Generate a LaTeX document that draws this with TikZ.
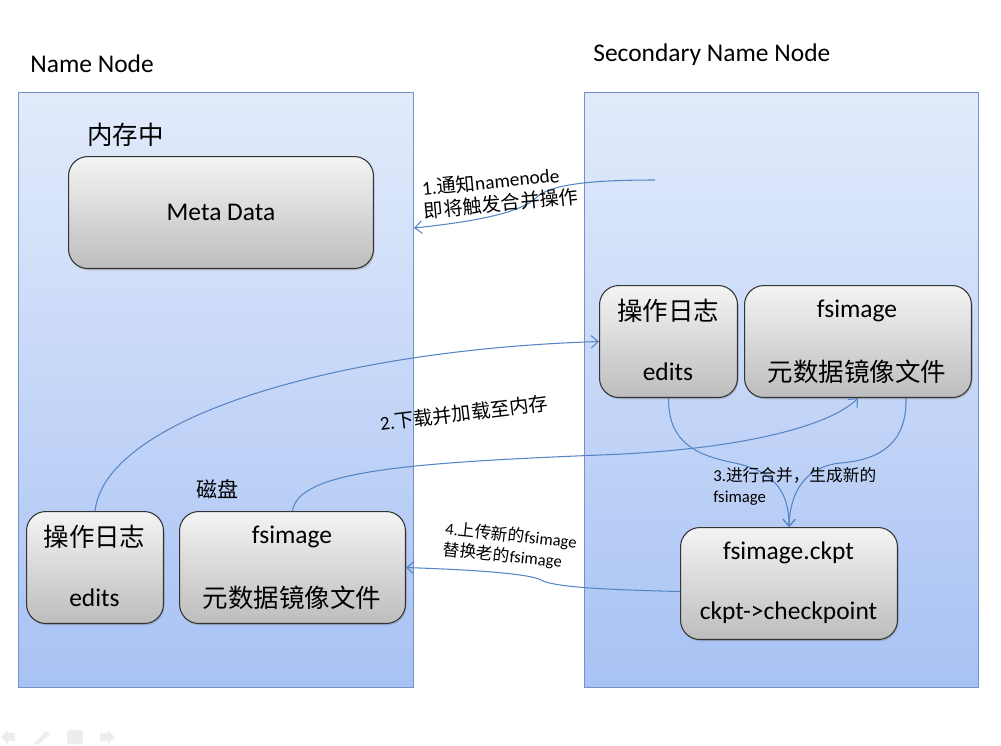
\documentclass[tikz,border=0pt]{standalone}
\usepackage{fontspec}
\setmainfont{Carlito}
\newfontfamily\cjk{Noto Sans CJK SC}
\usepackage{xcolor}
\usetikzlibrary{arrows.meta, calc, shadows}
\definecolor{paneltop}{HTML}{E2EBFB}
\definecolor{panelbot}{HTML}{A8C2F4}
\definecolor{panelline}{HTML}{6F93CC}
\definecolor{boxtop}{HTML}{F4F4F4}
\definecolor{boxbot}{HTML}{BDBDBD}
\definecolor{flowblue}{HTML}{5585C5}
\newcommand{\zh}[1]{{\cjk #1}}

\begin{document}
\begin{tikzpicture}[x=0.02cm, y=-0.02cm,
  panel/.style={draw=panelline, line width=0.6pt, top color=paneltop, bottom color=panelbot, anchor=north west, minimum height=11.9cm},
  store/.style={draw=black!80, line width=0.6pt, rounded corners=11pt, top color=boxtop, bottom color=boxbot, anchor=north west, minimum height=2.24cm, font=\fontsize{14.5}{17}\selectfont, drop shadow={shadow xshift=0.6pt, shadow yshift=-1pt, opacity=0.35}},
  boxtxt/.style={font=\fontsize{14.5}{17}\selectfont, inner sep=0pt},
  steplbl/.style={font=\fontsize{11}{13}\selectfont, align=left, inner sep=0pt},
  steplblsm/.style={font=\fontsize{9.5}{12}\selectfont, align=left, inner sep=0pt},
  flow/.style={draw=flowblue, line width=0.6pt, -{Straight Barb[length=4pt, width=7pt]}}]
  \useasboundingbox (0,0) rectangle (1001,745);

  % Name Node
  \node[boxtxt, anchor=west] (nntitle) at (30,64) {Name Node};
  \node[panel, minimum width=7.9cm] (nn) at (18,92) {};
  \node[boxtxt, anchor=west] (memlbl) at (87,135) {\zh{内存中}};
  \node[store, minimum width=6.1cm] (meta) at (68,156) {Meta Data};

  % disk
  \node[boxtxt, anchor=west, font=\fontsize{12}{14}\selectfont] (disklbl) at (196,489) {\zh{磁盘}};
  \node[store, minimum width=2.74cm] (ledits) at (26,511) {};
  \node[boxtxt] (leditsA) at (94.5,537) {\zh{操作日志}};
  \node[boxtxt] (leditsB) at (94.5,598) {edits};
  \node[store, minimum width=4.52cm] (lfs) at (179,511) {};
  \node[boxtxt] (lfsA) at (292,537) {fsimage};
  \node[boxtxt] (lfsB) at (292,598) {\zh{元数据镜像文件}};

  % Secondary Name Node
  \node[boxtxt, anchor=west] (snntitle) at (593,55) {Secondary Name Node};
  \node[panel, minimum width=7.88cm] (snn) at (584,92) {};
  \node[store, minimum width=2.76cm] (redits) at (599,285) {};
  \node[boxtxt] (reditsA) at (668,311) {\zh{操作日志}};
  \node[boxtxt] (reditsB) at (668,372) {edits};
  \node[store, minimum width=4.54cm] (rfs) at (744,285) {};
  \node[boxtxt] (rfsA) at (857,311) {fsimage};
  \node[boxtxt] (rfsB) at (857,372) {\zh{元数据镜像文件}};
  \node[store, minimum width=4.34cm] (ckpt) at (680,527) {};
  \node[boxtxt] (ckptA) at (788.5,553) {fsimage.ckpt};
  \node[boxtxt] (ckptB) at (788.5,613) {ckpt->checkpoint};

  % 1. notify
  \coordinate (notify) at (655,180);
  \draw[flow] (notify) .. controls (600,180) and (555,183) .. (538,196)
    .. controls (525,210) and (490,220) .. (nn.east |- 0,228);
  \node[steplbl, rotate=5.5] (step1) at (500,192) {1.\zh{通知}namenode\\\zh{即将触发合并操作}};

  % 2. download
  \draw[flow] (ledits.north) .. controls (105,420) and (330,350) .. (redits.west);
  \draw[flow] (lfs.north) .. controls (298,472) and (400,463) .. (600,455)
    .. controls (760,449) and (836,421) .. (rfs.south);
  \node[steplbl, rotate=7] (step2) at (464,413) {2.\zh{下载并加载至内存}};

  % 3. merge
  \draw[flow] (redits.south) .. controls (668,445) and (700,456) .. (735,463)
    .. controls (775,472) and (789,492) .. (ckpt.north);
  \draw[flow] ($(rfs.south)+(48,0)$) .. controls (907,445) and (878,460) .. (840,463)
    .. controls (805,467) and (790,492) .. (ckpt.north);
  \node[steplblsm, anchor=west] (step3) at (713,486) {3.\zh{进行合并，生成新的}\\fsimage};

  % 4. upload
  \draw[flow] ($(ckpt.west)+(0,8)$) .. controls (620,590) and (555,588) .. (541,580)
    .. controls (530,574) and (480,570) .. (lfs.east);
  \node[steplblsm, rotate=-6] (step4) at (510,546) {4.\zh{上传新的}fsimage\\\zh{替换老的}fsimage};

  % slide controls
  \fill[black!7] (1,737) -- (8,730) -- (8,733) -- (15,733) -- (15,741) -- (8,741) -- (8,744) -- cycle;
  \fill[black!7] (34,743) -- (46,731) -- (50,734) -- (38,745) -- cycle;
  \fill[black!7, rounded corners=1pt] (67,730) rectangle (83,744);
  \fill[black!7] (115,737) -- (108,730) -- (108,733) -- (100,733) -- (100,741) -- (108,741) -- (108,744) -- cycle;
\end{tikzpicture}
\end{document}
